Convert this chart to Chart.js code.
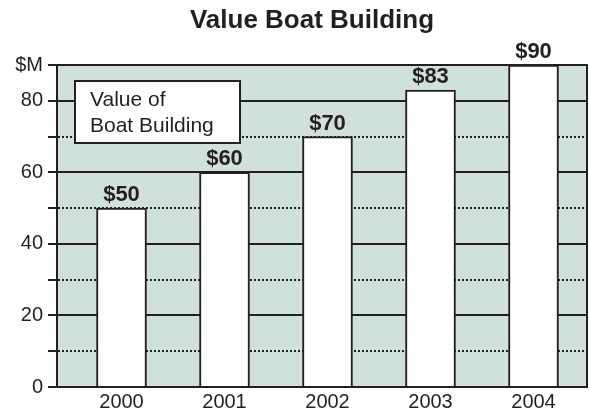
<!DOCTYPE html>
<html><head><meta charset="utf-8">
<script src="https://cdn.jsdelivr.net/npm/chart.js@4/dist/chart.umd.min.js"></script>
<style>html,body{margin:0;padding:0;background:#fff}#wrap{width:589px;height:415px}</style>
</head><body><div id="wrap"><canvas id="c" width="589" height="415"></canvas></div>
<script>
const title = 'Value Boat Building';
const years = [2000, 2001, 2002, 2003, 2004];
const values = [50, 60, 70, 83, 90];
const valueLabels = ['$50', '$60', '$70', '$83', '$90'];
const yTicks = [0, 10, 20, 30, 40, 50, 60, 70, 80, 90];
const yUnit = '$M';
const boxLines = ['Value of', 'Boat Building'];

const INK = '#231f20';
const BG = '#d0e1d9';
const FONT = 'Arial, "Liberation Sans", sans-serif';

const decoPlugin = {
  id: 'deco',
  beforeDraw(chart) {
    const a = chart.chartArea, ctx = chart.ctx;
    ctx.save(); ctx.fillStyle = BG;
    ctx.fillRect(a.left, a.top, a.right - a.left, a.bottom - a.top);
    // title
    ctx.fillStyle = INK; ctx.font = 'bold 26px ' + FONT;
    ctx.textAlign = 'center'; ctx.textBaseline = 'alphabetic';
    ctx.fillText(title, 312, 28);
    ctx.restore();
  },
  afterDatasetsDraw(chart) {
    const a = chart.chartArea, ctx = chart.ctx;
    ctx.save();
    ctx.strokeStyle = INK; ctx.lineWidth = 2;
    ctx.strokeRect(a.left, a.top, a.right - a.left, a.bottom - a.top);
    // value labels
    const meta = chart.getDatasetMeta(0);
    ctx.fillStyle = INK; ctx.font = 'bold 22px ' + FONT;
    ctx.textAlign = 'center'; ctx.textBaseline = 'alphabetic';
    meta.data.forEach((bar, i) => {
      ctx.fillText(valueLabels[i], bar.x, bar.y - 7);
    });
    // text box
    const x0 = 75, y0 = 81, w = 165, h = 62;
    ctx.fillStyle = '#fff';
    ctx.fillRect(x0, y0, w, h);
    ctx.strokeRect(x0, y0, w, h);
    ctx.fillStyle = INK; ctx.font = '21px ' + FONT;
    ctx.textAlign = 'left'; ctx.textBaseline = 'alphabetic';
    ctx.fillText(boxLines[0], 90, 106);
    ctx.fillText(boxLines[1], 90, 132);
    ctx.restore();
  }
};

new Chart(document.getElementById('c'), {
  type: 'bar',
  data: {
    datasets: [{
      data: years.map((y, i) => ({ x: y, y: values[i] })),
      backgroundColor: '#ffffff',
      borderColor: INK,
      borderWidth: 2,
      barThickness: 50
    }]
  },
  options: {
    responsive: false,
    animation: false,
    layout: { padding: { left: 0, right: 2, top: 65, bottom: 0 } },
    plugins: {
      legend: { display: false },
      tooltip: { enabled: false },
      title: { display: false }
    },
    scales: {
      x: {
        type: 'linear',
        offset: false,
        min: 1999.3738, max: 2004.5194,
        afterBuildTicks: s => { s.ticks = years.map(v => ({ value: v })); },
        afterFit: s => { s.height = 28; },
        grid: { display: false, drawTicks: false, offset: false },
        border: { display: true, color: INK, width: 2 },
        ticks: {
          color: INK, padding: 3, maxRotation: 0, autoSkip: false,
          font: { family: FONT, size: 20 },
          callback: v => String(v)
        }
      },
      y: {
        min: 0, max: 90,
        afterBuildTicks: s => { s.ticks = yTicks.map(v => ({ value: v })); },
        afterFit: s => { s.width = 57; },
        grid: {
          color: INK,
          lineWidth: 2,
          drawTicks: true, tickLength: 9, tickWidth: 2, tickColor: INK
        },
        border: {
          display: true, color: INK, width: 2,
          dash: ctx => (ctx.tick && ctx.tick.value % 20 === 10) ? [2, 2] : []
        },
        ticks: {
          color: INK, padding: 5, autoSkip: false,
          font: { family: FONT, size: 20 },
          callback: v => v === 90 ? yUnit : (v % 20 === 0 ? String(v) : '')
        }
      }
    }
  },
  plugins: [decoPlugin]
});
</script>
</body></html>
